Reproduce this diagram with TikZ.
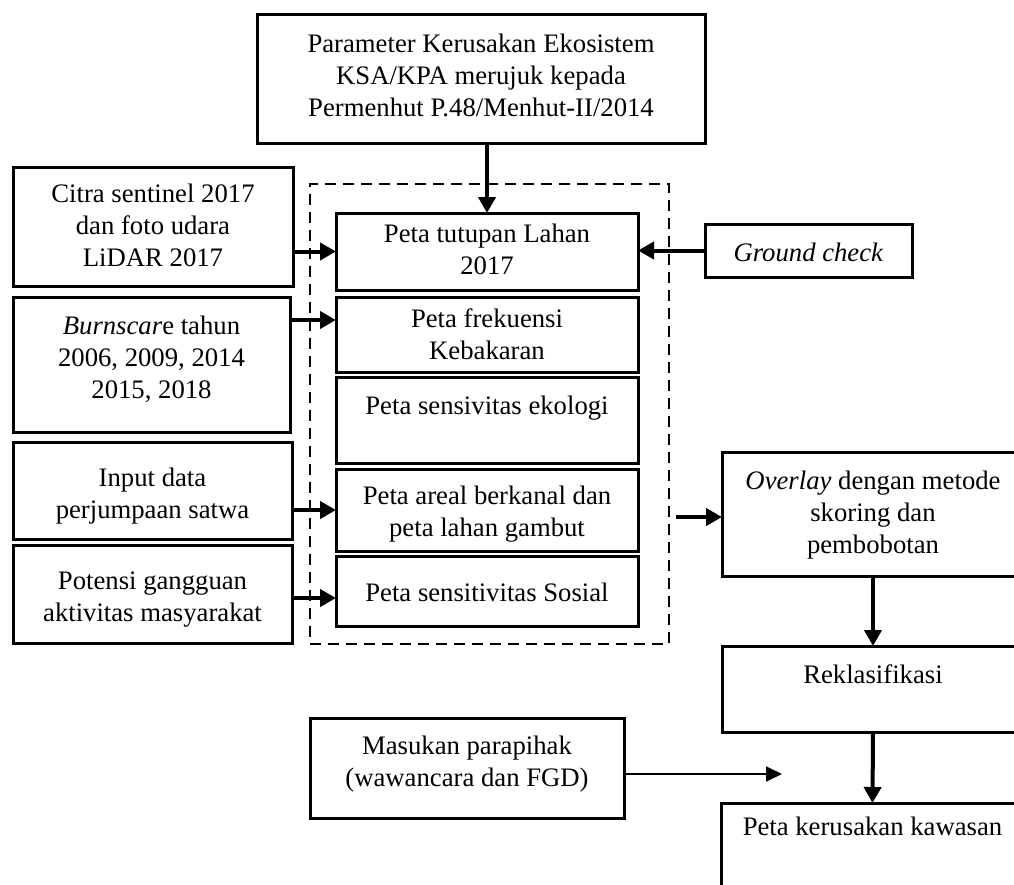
\documentclass[tikz,border=0pt]{standalone}
\usepackage{fontspec}
\setmainfont{Liberation Serif}
\usetikzlibrary{arrows.meta}
\newcommand{\bx}[7]{%
 \node[bx, anchor=north west] (#1) at (#2,#3) {\begin{minipage}[t][\dimexpr#5pt-#3pt\relax][t]{\dimexpr#4pt-#2pt\relax}\centering\vspace*{#6pt}\strut #7\end{minipage}};}
\tikzset{
 bx/.style={draw, line width=3pt, inner sep=0pt, outer sep=0pt, fill=white},
 grp/.style={draw, dashed, dash pattern=on 11pt off 7pt, line width=2.2pt, inner sep=0pt, anchor=north west},
 arr/.style={line width=4pt, -{Triangle[length=16pt,width=17pt]}},
 tarr/.style={line width=1.8pt, -{Triangle[length=16pt,width=15pt]}}
}
\begin{document}
\begin{tikzpicture}[x=1pt,y=-1pt]
\fontsize{26.7}{32}\selectfont
\useasboundingbox (0,0) rectangle (1014,884);
\clip (0,0) rectangle (1014,884);
\node[grp, minimum width=359pt, minimum height=460pt] (grp) at (309,183) {};
\bx{top}{257}{14}{705}{143}{16}{Parameter Kerusakan Ekosistem\\ KSA/KPA merujuk kepada\\ Permenhut P.48/Menhut-II/2014}
\bx{citra}{13}{167}{293}{286}{13}{Citra sentinel 2017\\ dan foto udara\\ LiDAR 2017}
\bx{burn}{13}{297}{290}{432}{15}{\textit{Burnscar}e tahun\\ 2006, 2009, 2014\\ 2015, 2018}
\bx{input}{13}{442}{292}{539}{22}{Input data\\ perjumpaan satwa}
\bx{potensi}{13}{545}{292}{643}{22}{Potensi gangguan\\ aktivitas masyarakat}
\bx{tutupan}{336}{213}{638}{290}{7}{Peta tutupan Lahan\\ 2017}
\bx{freq}{336}{297}{638}{372}{8}{Peta frekuensi\\ Kebakaran}
\bx{eko}{336}{377}{638}{463}{15}{Peta sensivitas ekologi}
\bx{areal}{336}{469}{638}{551}{13}{Peta areal berkanal dan\\ peta lahan gambut}
\bx{sosial}{336}{556}{638}{626}{23}{Peta sensitivitas Sosial}
\bx{ground}{705}{224}{912}{277}{15}{\textit{Ground check}}
\bx{overlay}{722}{452}{1024}{576}{15}{\textit{Overlay} dengan metode\\ skoring dan\\ pembobotan}
\bx{reklas}{722}{646}{1024}{732}{15}{Reklasifikasi}
\bx{masukan}{310}{718}{624}{818}{14}{Masukan parapihak\\ (wawancara dan FGD)}
\bx{rusak}{721}{803}{1024}{920}{10}{Peta kerusakan kawasan}
\coordinate (mend) at (782,774);
\draw[arr] (top.south -| tutupan.north) -- (tutupan.north);
\draw[arr] (citra.east |- tutupan.west) -- (tutupan.west);
\draw[arr] (ground.west) -- (ground.west -| tutupan.east);
\draw[arr] ([yshift=-23pt]burn.north east) -- ([yshift=-23pt]burn.north east -| freq.west);
\draw[arr] (input.east |- areal.west) -- (areal.west);
\draw[arr] ([yshift=-4pt]potensi.east) -- ([yshift=-4pt]potensi.east -| sosial.west);
\draw[arr] ([xshift=6pt,yshift=-3pt]grp.east |- overlay.west) -- ([yshift=-3pt]overlay.west);
\draw[arr] (overlay.south) -- (reklas.north);
\draw[arr] (reklas.south) -- (rusak.north);
\draw[tarr] (masukan.east |- mend) -- (mend);
\end{tikzpicture}
\end{document}
